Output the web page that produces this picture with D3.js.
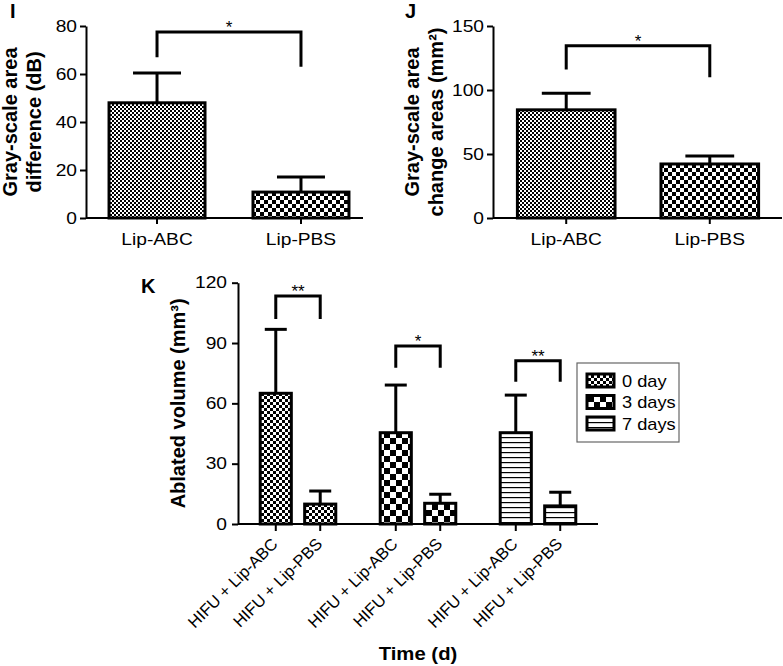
<!DOCTYPE html>
<html><head><meta charset="utf-8">
<script src="https://cdn.jsdelivr.net/npm/d3@7"></script>
<style>
body{margin:0;background:#fff}
text{font-family:"Liberation Sans",Arial,sans-serif;fill:#000}
</style>
</head><body>
<svg id="c" width="783" height="666"></svg>
<script>
// ---------- data ----------
const iCategories = ["Lip-ABC", "Lip-PBS"];
const iValues = [48, 10.8];
const iErrorTop = [60.4, 17.1];
const iTicks = [0, 20, 40, 60, 80];
const iBracket = [77.5, 67, 63];   // bar level, left leg end, right leg end
const iStars = "*";

const jCategories = ["Lip-ABC", "Lip-PBS"];
const jValues = [84.5, 42.2];
const jErrorTop = [97.4, 48.4];
const jTicks = [0, 50, 100, 150];
const jBracket = [134.6, 116, 110];
const jStars = "*";

const kGroups = ["0 day", "3 days", "7 days"];
const kCategories = ["HIFU + Lip-ABC", "HIFU + Lip-PBS"];
const kValues = [[65, 9.9], [45.4, 10.3], [45.4, 9.0]];
const kErrorTop = [[96.8, 16.4], [69.1, 14.8], [64.1, 15.8]];
const kTicks = [0, 30, 60, 90, 120];
const kBrackets = [[113.4, 102, 102], [88.5, 77.7, 77.7], [81.2, 70.8, 70.8]];
const kStars = ["**", "*", "**"];

// ---------- setup ----------
const SX = 1.2; // horizontal stretch of regular text in the reference
const svg = d3.select("#c");
svg.append("rect").attr("width", 783).attr("height", 666).attr("fill", "#fff");
const defs = svg.append("defs");
function checker(id, c) {
  const p = defs.append("pattern").attr("id", id).attr("patternUnits", "userSpaceOnUse")
    .attr("width", 2 * c).attr("height", 2 * c);
  p.append("rect").attr("width", 2 * c).attr("height", 2 * c).attr("fill", "#fff");
  p.append("rect").attr("width", c).attr("height", c).attr("fill", "#000");
  p.append("rect").attr("x", c).attr("y", c).attr("width", c).attr("height", c).attr("fill", "#000");
}
checker("fine", 2);
checker("med", 4);
checker("kfine", 3);
checker("kcoarse", 6);
{
  const p = defs.append("pattern").attr("id", "hlines").attr("patternUnits", "userSpaceOnUse")
    .attr("width", 10).attr("height", 5);
  p.append("rect").attr("width", 10).attr("height", 5).attr("fill", "#fff");
  p.append("rect").attr("y", 2).attr("width", 10).attr("height", 1.2).attr("fill", "#000");
}

function hText(g, x, y, str, fs, anchor, sx) {
  return g.append("text").attr("transform", `translate(${x},${y}) scale(${sx},1)`)
    .attr("text-anchor", anchor).attr("font-size", fs).text(str);
}

function styleYAxis(sel, fs, gap) {
  sel.select(".domain").attr("stroke-width", 2);
  sel.selectAll(".tick line").attr("stroke-width", 2);
  sel.selectAll(".tick text").attr("font-size", fs)
    .attr("font-family", "Liberation Sans, Arial, sans-serif")
    .attr("transform", `scale(${SX},1)`).attr("x", -gap / SX);
}

function bracket(g, x1, x2, yb, yl, yr, stars, y, fs) {
  g.append("path")
    .attr("d", `M${x1},${y(yl)}V${y(yb)}H${x2}V${y(yr)}`)
    .attr("fill", "none").attr("stroke", "#000").attr("stroke-width", 3);
  g.append("text").attr("x", (x1 + x2) / 2).attr("y", y(yb) + 1)
    .attr("text-anchor", "middle").attr("font-size", fs).attr("fill", "#444").text(stars);
}

function errorBar(g, cx, v, top, half, y) {
  g.append("line").attr("x1", cx).attr("x2", cx).attr("y1", y(v)).attr("y2", y(top))
    .attr("stroke", "#000").attr("stroke-width", 3);
  g.append("line").attr("x1", cx - half).attr("x2", cx + half).attr("y1", y(top)).attr("y2", y(top))
    .attr("stroke", "#000").attr("stroke-width", 3);
}

function yTitle(g, x, cy, lines, fs, lh) {
  const t = g.append("text").attr("transform", `translate(${x},${cy}) rotate(-90)`)
    .attr("text-anchor", "middle").attr("font-weight", "bold").attr("font-size", fs);
  lines.forEach((l, i) => t.append("tspan").attr("x", 0).attr("dy", i === 0 ? 0 : lh).text(l));
}

// ---------- simple two-bar panels ----------
function simplePanel(o) {
  const g = svg.append("g");
  const y = d3.scaleLinear().domain([0, o.max]).range([o.y0, o.y1]);
  const x = d3.scaleBand().domain(o.cats).range(o.xr).paddingInner(o.pi).paddingOuter(o.po);
  const ax = g.append("g").attr("transform", `translate(${o.xr[0]},0)`)
    .call(d3.axisLeft(y).tickValues(o.ticks).tickSize(6).tickSizeOuter(0).tickPadding(4));
  styleYAxis(ax, 16, 9);
  g.append("line").attr("x1", o.xr[0]).attr("x2", o.xEnd).attr("y1", o.y0).attr("y2", o.y0)
    .attr("stroke", "#000").attr("stroke-width", 2);
  o.cats.forEach((c, i) => {
    const cx = x(c) + x.bandwidth() / 2;
    g.append("line").attr("x1", cx).attr("x2", cx).attr("y1", o.y0).attr("y2", o.y0 + 6)
      .attr("stroke", "#000").attr("stroke-width", 2);
    hText(g, cx, o.y0 + 27, c, 16, "middle", SX);
    errorBar(g, cx, o.vals[i], o.err[i], x.bandwidth() / 4, y);
    g.append("rect").attr("x", x(c)).attr("width", x.bandwidth())
      .attr("y", y(o.vals[i])).attr("height", y(0) - y(o.vals[i]))
      .attr("fill", `url(#${o.fills[i]})`).attr("stroke", "#000").attr("stroke-width", 3);
  });
  const c0 = x(o.cats[0]) + x.bandwidth() / 2, c1 = x(o.cats[1]) + x.bandwidth() / 2;
  bracket(g, c0, c1, o.br[0], o.br[1], o.br[2], o.stars, y, 17);
  yTitle(g, o.titleX, (o.y0 + o.y1) / 2, o.title, 20, 24);
  g.append("text").attr("x", o.label[1]).attr("y", o.label[2]).attr("font-weight", "bold")
    .attr("font-size", 20).text(o.label[0]);
}

simplePanel({
  cats: iCategories, vals: iValues, err: iErrorTop, ticks: iTicks, max: 80,
  y0: 218, y1: 26, xr: [86, 372], xEnd: 363, pi: 1 / 3, po: 0.16,
  fills: ["fine", "med"], br: iBracket, stars: iStars,
  title: ["Gray-scale area", "difference (dB)"], titleX: 17, label: ["I", 10, 18]
});
simplePanel({
  cats: jCategories, vals: jValues, err: jErrorTop, ticks: jTicks, max: 150,
  y0: 218, y1: 26, xr: [493, 783], xEnd: 782, pi: 0.32, po: 0.17,
  fills: ["fine", "med"], br: jBracket, stars: jStars,
  title: ["Gray-scale area", "change areas (mm²)"], titleX: 419, label: ["J", 405, 18]
});

// ---------- panel K ----------
{
  const g = svg.append("g");
  const y0 = 524, y1 = 282.7;
  const y = d3.scaleLinear().domain([0, 120]).range([y0, y1]);
  const xg = d3.scaleBand().domain(kGroups).range([238, 598]).padding(0);
  const xi = d3.scaleBand().domain(kCategories).range([0, xg.bandwidth()]).paddingInner(0.3).paddingOuter(0.5);
  const ax = g.append("g").attr("transform", `translate(238,0)`)
    .call(d3.axisLeft(y).tickValues(kTicks).tickSize(6).tickSizeOuter(0).tickPadding(4));
  styleYAxis(ax, 16, 11);
  g.append("line").attr("x1", 238).attr("x2", 598).attr("y1", y0).attr("y2", y0)
    .attr("stroke", "#000").attr("stroke-width", 2);
  const fills = [["kfine", "kfine"], ["kcoarse", "kcoarse"], ["hlines", "hlines"]];
  kGroups.forEach((gr, gi) => {
    const centers = kCategories.map(c => xg(gr) + xi(c) + xi.bandwidth() / 2);
    kCategories.forEach((c, ci) => {
      const cx = centers[ci];
      g.append("line").attr("x1", cx).attr("x2", cx).attr("y1", y0).attr("y2", y0 + 7)
        .attr("stroke", "#000").attr("stroke-width", 2);
      g.append("text").attr("transform", `translate(${cx + 3},${y0 + 21}) rotate(-45)`)
        .attr("text-anchor", "end").attr("font-size", 16.5).text(c);
      errorBar(g, cx, kValues[gi][ci], kErrorTop[gi][ci], 11, y);
      g.append("rect").attr("x", xg(gr) + xi(c)).attr("width", xi.bandwidth())
        .attr("y", y(kValues[gi][ci])).attr("height", y(0) - y(kValues[gi][ci]))
        .attr("fill", `url(#${fills[gi][ci]})`).attr("stroke", "#000").attr("stroke-width", 3);
    });
    const b = kBrackets[gi];
    bracket(g, centers[0], centers[1], b[0], b[1], b[2], kStars[gi], y, 17);
  });
  yTitle(g, 185, (y0 + y1) / 2, ["Ablated volume (mm³)"], 20, 24);
  g.append("text").attr("transform", "translate(418,660) scale(1.07,1)").attr("text-anchor", "middle")
    .attr("font-weight", "bold").attr("font-size", 19).text("Time (d)");
  g.append("text").attr("x", 141).attr("y", 293).attr("font-weight", "bold").attr("font-size", 20).text("K");

  // legend
  const lg = g.append("g");
  lg.append("rect").attr("x", 577).attr("y", 363).attr("width", 102).attr("height", 79)
    .attr("fill", "#fff").attr("stroke", "#666").attr("stroke-width", 1.2);
  const lf = ["kfine", "kcoarse", "hlines"];
  kGroups.forEach((gr, i) => {
    const yy = 374 + i * 21.5;
    lg.append("rect").attr("x", 587).attr("y", yy).attr("width", 27).attr("height", 13)
      .attr("fill", `url(#${lf[i]})`).attr("stroke", "#000").attr("stroke-width", 3);
    hText(lg, 622, yy + 12.5, gr, 16, "start", 1.14);
  });
}
</script>
</body></html>
